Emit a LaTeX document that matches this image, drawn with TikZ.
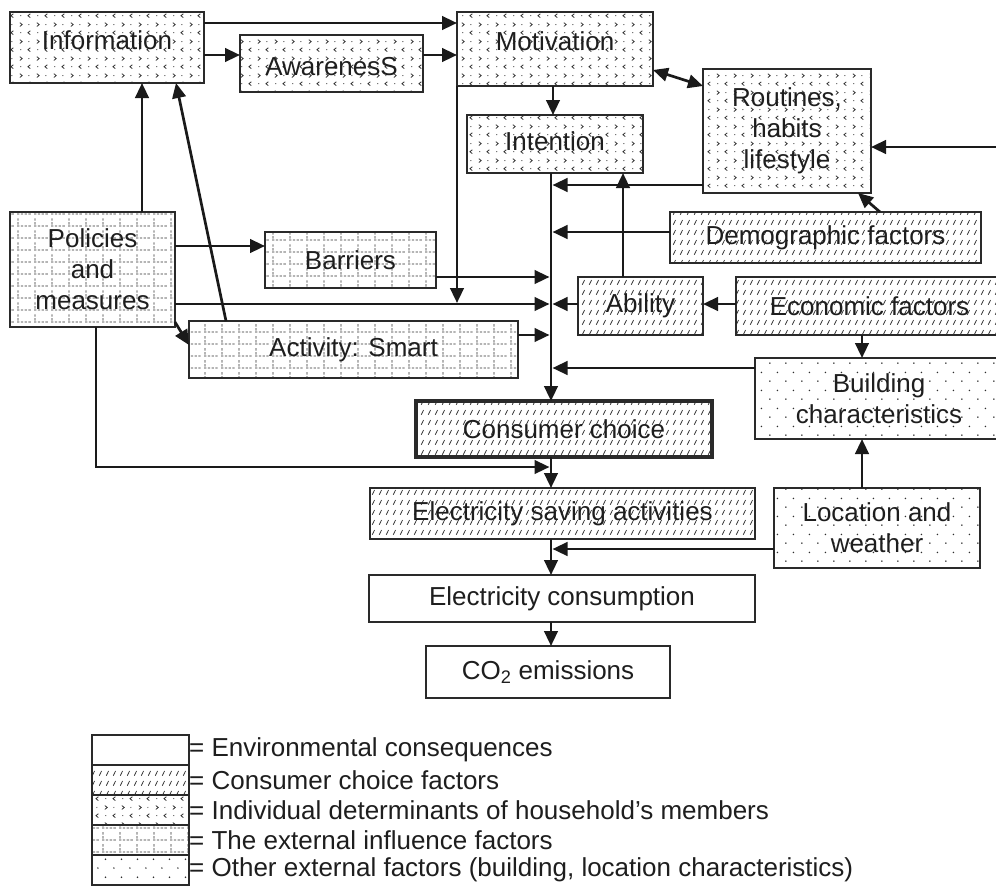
\documentclass[tikz,border=0pt]{standalone}
\usepackage{fontspec}
\setmainfont{Liberation Sans}
\usetikzlibrary{patterns,arrows.meta}
\definecolor{lk}{HTML}{1A1A1A}
\definecolor{bc}{HTML}{2A2A2A}
\definecolor{tc}{HTML}{1E1E1E}
\definecolor{pc}{HTML}{2E2E2E}
% individual determinants: small chevrons
\pgfdeclarepatternformonly{chev}{\pgfqpoint{0pt}{0pt}}{\pgfqpoint{17pt}{17pt}}{\pgfqpoint{17pt}{17pt}}{%
  \pgfsetlinewidth{0.8pt}%
  \pgfpathmoveto{\pgfqpoint{3pt}{15pt}}\pgfpathlineto{\pgfqpoint{5.5pt}{13pt}}\pgfpathlineto{\pgfqpoint{3pt}{11pt}}%
  \pgfpathmoveto{\pgfqpoint{14pt}{6.5pt}}\pgfpathlineto{\pgfqpoint{11.5pt}{4.5pt}}\pgfpathlineto{\pgfqpoint{14pt}{2.5pt}}%
  \pgfusepath{stroke}%
  \pgfpathcircle{\pgfqpoint{12.5pt}{13pt}}{0.6pt}%
  \pgfpathcircle{\pgfqpoint{4pt}{4.5pt}}{0.6pt}%
  \pgfusepath{fill}}
% consumer choice factors: short slanted strokes
\pgfdeclarepatternformonly{hatch}{\pgfqpoint{0pt}{0pt}}{\pgfqpoint{7pt}{10pt}}{\pgfqpoint{7pt}{10pt}}{%
  \pgfsetlinewidth{0.85pt}%
  \pgfpathmoveto{\pgfqpoint{1.5pt}{2.5pt}}\pgfpathlineto{\pgfqpoint{4pt}{7.5pt}}%
  \pgfusepath{stroke}}
% external influence factors: dashed grid
\pgfdeclarepatternformonly{dgrid}{\pgfqpoint{0pt}{0pt}}{\pgfqpoint{17pt}{11.5pt}}{\pgfqpoint{17pt}{11.5pt}}{%
  \pgfsetlinewidth{0.75pt}%
  \pgfpathmoveto{\pgfqpoint{0pt}{1pt}}\pgfpathlineto{\pgfqpoint{2.5pt}{1pt}}%
  \pgfpathmoveto{\pgfqpoint{4pt}{1pt}}\pgfpathlineto{\pgfqpoint{6.5pt}{1pt}}%
  \pgfpathmoveto{\pgfqpoint{8pt}{1pt}}\pgfpathlineto{\pgfqpoint{10.5pt}{1pt}}%
  \pgfpathmoveto{\pgfqpoint{12pt}{1pt}}\pgfpathlineto{\pgfqpoint{14.5pt}{1pt}}%
  \pgfpathmoveto{\pgfqpoint{1pt}{2.5pt}}\pgfpathlineto{\pgfqpoint{1pt}{5pt}}%
  \pgfpathmoveto{\pgfqpoint{1pt}{6.5pt}}\pgfpathlineto{\pgfqpoint{1pt}{9pt}}%
  \pgfusepath{stroke}}
% other external factors: sparse dots
\pgfdeclarepatternformonly{sdots}{\pgfqpoint{0pt}{0pt}}{\pgfqpoint{16pt}{18pt}}{\pgfqpoint{16pt}{18pt}}{%
  \pgfpathcircle{\pgfqpoint{2pt}{2pt}}{0.85pt}%
  \pgfpathcircle{\pgfqpoint{10pt}{11pt}}{0.85pt}%
  \pgfusepath{fill}}
\newfontfamily\lsans{Liberation Sans}
\newcommand\dfont{\lsans\fontsize{26}{31}\selectfont}
\begin{document}
\begin{tikzpicture}[x=1pt,y=-1pt,
  box/.style={draw=bc, line width=1.4pt, inner sep=0pt, outer sep=0pt, align=center, font=\dfont, text=tc},
  wh/.style 2 args={minimum width=#1pt, minimum height=#2pt},
  envbox/.style={box, fill=white},
  ccbox/.style={box, pattern=hatch, pattern color=pc},
  indbox/.style={box, pattern=chev, pattern color=pc},
  extbox/.style={box, pattern=dgrid, pattern color=pc},
  othbox/.style={box, pattern=sdots, pattern color=pc},
  arr/.style={draw=lk, line width=2.7pt, -{Triangle[length=15pt,width=13.5pt]}},
  darr/.style={draw=lk, line width=2.7pt, {Triangle[length=15pt,width=13.5pt]}-{Triangle[length=15pt,width=13.5pt]}},
  legtext/.style={anchor=west, inner sep=0pt, font=\dfont, text=tc}
]
\useasboundingbox (0,0) rectangle (996,887);
\fill[white] (0,0) rectangle (996,887);
\clip (0,0) rectangle (996,887);

% ---- boxes ----
\node[indbox, wh={194}{71}, text depth=14pt]  (info)  at (107,47.5)  {Information};
\node[indbox, wh={183}{57}, text height=24.6pt] (aware) at (331.5,63.5) {AwarenesS};
\node[indbox, wh={196}{74}, text depth=16pt]  (motiv) at (555,49)    {Motivation};
\node[indbox, wh={176}{58}, text depth=6pt]   (inten) at (555,144)   {Intention};
\node[indbox, wh={168}{124}] (rout)  at (787,131)   {Routines,\\habits\\lifestyle};
\node[extbox, wh={165}{115}] (pol)   at (92.5,269.5) {Policies\\and\\measures};
\node[extbox, wh={171}{56}]  (barr)  at (350.5,260) {Barriers};
\node[extbox, wh={329}{57}]  (act)   at (353.5,349.5) {Activity: Smart};
\node[ccbox, wh={311}{51}]   (demo)  at (825.5,237.5) {Demographic factors};
\node[ccbox, wh={125}{58}]   (abil)  at (640.5,306) {Ability};
\node[ccbox, wh={267}{58}]   (econ)  at (869.5,306) {Economic factors};
\node[othbox, wh={248}{81}]  (build) at (879,398.5) {Building\\characteristics};
\node[ccbox, wh={296}{56}, line width=3.4pt] (cons) at (564,429) {Consumer choice};
\node[ccbox, wh={385}{51}]   (esave) at (562.5,513.5) {Electricity saving activities};
\node[othbox, wh={206}{80}]  (loc)   at (877,528)   {Location and\\weather};
\node[envbox, wh={386}{47}]  (econs) at (562,598.5) {Electricity consumption};
\node[envbox, wh={244}{52}]  (co2)   at (548,672)   {CO\textsubscript{2} emissions};

% ---- junction points on the main line ----
\coordinate (redge) at (1000,147);
\coordinate (j1) at (552.5,185);
\coordinate (j2) at (552.5,232);
\coordinate (j3) at (549.5,277);
\coordinate (j4) at (549.5,304);
\coordinate (j4b) at (457,303);
\coordinate (j5) at (552.5,304);
\coordinate (j6) at (549.5,335);
\coordinate (j7) at (552.5,368);
\coordinate (j8) at (549.5,467);
\coordinate (j9) at (552.5,549);

% ---- connectors ----
\draw[arr] (info.east |- 0,23) -- (motiv.west |- 0,23);
\draw[arr] (info.east |- 0,55) -- (aware.west |- 0,55);
\draw[arr] (aware.east |- 0,55) -- (motiv.west |- 0,55);
\draw[darr] (motiv.east |- 0,70) -- (rout.west |- 0,86);
\draw[arr] (motiv.south -| 553,0) -- (inten.north -| 553,0);
\draw[arr] (redge) -- (rout.east |- redge);
\draw[arr] (rout.west |- j1) -- (j1);
\draw[arr] (abil.north -| 623,0) -- (inten.south -| 623,0);
\draw[arr] (demo.north -| 880,0) -- (rout.south -| 858,0);
\draw[arr] (demo.west |- j2) -- (j2);
\draw[arr] (pol.north -| 142,0) -- (info.south -| 142,0);
\draw[arr] (act.north -| 226,0) -- (info.south -| 176,0);
\draw[arr] (pol.east |- 0,246) -- (barr.west |- 0,246);
\draw[arr] (barr.east |- j3) -- (j3);
\draw[arr] (pol.east |- j4) -- (j4);
\draw[arr] (motiv.south west) -- (j4b);
\draw[arr] (abil.west |- j5) -- (j5);
\draw[arr] (econ.west |- 0,304) -- (abil.east |- 0,304);
\draw[arr] (pol.east |- 0,322) -- (act.west |- 0,345);
\draw[arr] (act.east |- j6) -- (j6);
\draw[arr] (econ.south -| 862,0) -- (build.north -| 862,0);
\draw[arr] (build.west |- j7) -- (j7);
\draw[arr] (inten.south -| 551,0) -- (cons.north -| 551,0);
\draw[arr] (pol.south -| 96,0) |- (j8);
\draw[arr] (cons.south -| 551,0) -- (esave.north -| 551,0);
\draw[arr] (loc.north -| 862,0) -- (build.south -| 862,0);
\draw[arr] (loc.west |- j9) -- (j9);
\draw[arr] (esave.south -| 551,0) -- (econs.north -| 551,0);
\draw[arr] (econs.south -| 551,0) -- (co2.north -| 551,0);

% ---- legend ----
\node[envbox, wh={97}{30}] (leg1) at (140.5,750) {};
\node[ccbox,  wh={97}{30}] (leg2) at (140.5,780) {};
\node[indbox, wh={97}{30}] (leg3) at (140.5,810) {};
\node[extbox, wh={97}{30}] (leg4) at (140.5,840) {};
\node[othbox, wh={97}{30}] (leg5) at (140.5,870) {};
\node[legtext] (lt1) at (leg1.east) {= Environmental consequences};
\node[legtext] (lt2) at (leg2.east) {= Consumer choice factors};
\node[legtext] (lt3) at (leg3.east) {= Individual determinants of household’s members};
\node[legtext] (lt4) at (leg4.east) {= The external influence factors};
\node[legtext] (lt5) at (leg5.east) {= Other external factors (building, location characteristics)};
\end{tikzpicture}
\end{document}
